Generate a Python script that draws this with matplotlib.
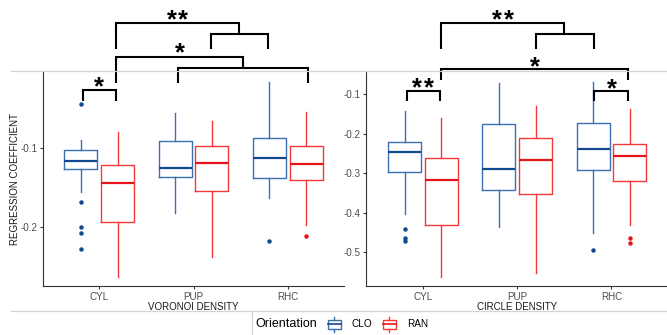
import numpy as np
import matplotlib
matplotlib.use('Agg')
import matplotlib.pyplot as plt
import matplotlib.transforms as mtransforms
from matplotlib.patches import Rectangle
from matplotlib.lines import Line2D
from matplotlib.textpath import TextPath
from matplotlib.font_manager import FontProperties

plt.rcParams['font.family'] = ['Liberation Sans', 'DejaVu Sans']

# categories and groups
categories = ['CYL', 'PUP', 'RHC']
groups = ['CLO', 'RAN']

# box stats per category: [whislo, q1, median, q3, whishi]
vor_clo_stats = [[-0.1551, -0.1267, -0.1157, -0.1025, -0.0895],
                 [-0.1826, -0.1369, -0.1246, -0.0904, -0.0548],
                 [-0.1635, -0.1381, -0.1119, -0.0873, -0.0154]]
vor_clo_fliers = [[-0.0437, -0.1686, -0.2004, -0.2076, -0.2280], [], [-0.2178]]
vor_ran_stats = [[-0.2632, -0.1932, -0.1437, -0.1208, -0.0789],
                 [-0.2377, -0.1538, -0.1183, -0.0971, -0.0649],
                 [-0.1974, -0.1403, -0.1196, -0.0975, -0.0539]]
vor_ran_fliers = [[], [], [-0.2110]]

cir_clo_stats = [[-0.4032, -0.2963, -0.2474, -0.2205, -0.1420],
                 [-0.4369, -0.3434, -0.2904, -0.1767, -0.0730],
                 [-0.4504, -0.2920, -0.2382, -0.1740, -0.0689]]
cir_clo_fliers = [[-0.4410, -0.4647, -0.4706], [], [-0.4942]]
cir_ran_stats = [[-0.5616, -0.4302, -0.3181, -0.2625, -0.1615],
                 [-0.5530, -0.3535, -0.2676, -0.2103, -0.1303],
                 [-0.4310, -0.3198, -0.2575, -0.2272, -0.1388]]
cir_ran_fliers = [[], [], [-0.4630, -0.4765]]

vor_ticks = [-0.2, -0.1]
vor_ticklabels = ['-0.2', '-0.1']
cir_ticks = [-0.5, -0.4, -0.3, -0.2, -0.1]
cir_ticklabels = ['-0.5', '-0.4', '-0.3', '-0.2', '-0.1']

W, H = 667, 335
fig = plt.figure(figsize=(W / 100, H / 100), dpi=100)
px = mtransforms.Affine2D().scale(1 / W, -1 / H).translate(0, 1) + fig.transFigure

edge = {'CLO': '#3d6fb3', 'RAN': '#f5383a'}
med = {'CLO': '#124a92', 'RAN': '#e8141b'}
dark = '#333333'


def rect(x0, x1, y0, y1):
    return [x0 / W, 1 - y1 / H, (x1 - x0) / W, (y1 - y0) / H]


def draw_panel(ax, clo_stats, clo_fl, ran_stats, ran_fl, xlabel, ticks, ticklabels, ylim):
    pos = np.arange(1, len(categories) + 1)
    for g, stats, fl, off in [('CLO', clo_stats, clo_fl, -0.195), ('RAN', ran_stats, ran_fl, 0.195)]:
        bs = [dict(whislo=s[0], q1=s[1], med=s[2], q3=s[3], whishi=s[4], fliers=f)
              for s, f in zip(stats, fl)]
        ax.bxp(bs, positions=pos + off, widths=0.35, showcaps=False, patch_artist=False,
               boxprops=dict(color=edge[g], lw=1.0),
               whiskerprops=dict(color=edge[g], lw=1.0),
               medianprops=dict(color=med[g], lw=1.6),
               flierprops=dict(marker='o', markersize=2.2, markerfacecolor=med[g],
                               markeredgecolor=med[g], linestyle='none'))
    ax.set_xlim(0.4, 3.6)
    ax.set_ylim(*ylim)
    ax.set_xticks(pos)
    ax.set_xticklabels(categories)
    ax.set_yticks(ticks)
    ax.set_yticklabels(ticklabels)
    ax.set_xlabel(xlabel, fontsize=7.0, color='#1a1a1a', labelpad=0.2)
    for s in ['top', 'right']:
        ax.spines[s].set_visible(False)
    for s in ['left', 'bottom']:
        ax.spines[s].set_color(dark)
        ax.spines[s].set_linewidth(0.8)
    ax.tick_params(axis='both', colors=dark, labelcolor='#4d4d4d', labelsize=7.1,
                   length=2.5, width=0.8, pad=1.5)


ax1 = fig.add_axes(rect(42.8, 344.3, 72, 286))
draw_panel(ax1, vor_clo_stats, vor_clo_fliers, vor_ran_stats, vor_ran_fliers,
           'VORONOI DENSITY', vor_ticks, vor_ticklabels, (-0.275, -0.003))
ax1.set_ylabel('REGRESSION COEFFICIENT', fontsize=7.0, color='#1a1a1a')
ax1.yaxis.set_label_coords(-0.074, 0.5)

ax2 = fig.add_axes(rect(366.4, 668.0, 72, 286))
draw_panel(ax2, cir_clo_stats, cir_clo_fliers, cir_ran_stats, cir_ran_fliers,
           'CIRCLE DENSITY', cir_ticks, cir_ticklabels, (-0.5852, -0.0444))

# asterisk glyph metrics so the ink (not the line box) is placed
star_prop = FontProperties(family='Liberation Sans', weight='bold')
ext = TextPath((0, 0), '*', size=10, prop=star_prop).get_extents()
star_fs = 10 * (9.5 * 0.72) / ext.height          # ~9.5 px tall glyph
star_mid = (ext.y0 + ext.y1) / 2 * star_fs / 10 / 0.72   # px above baseline


def bracket(ax, xs, ys):
    tr = mtransforms.blended_transform_factory(ax.transData, px)
    ax.plot(xs, ys, color='black', lw=1.5, transform=tr, clip_on=False,
            solid_joinstyle='miter', solid_capstyle='butt')


def stars(ax, x, yc, n):
    # yc = pixel centre of the star ink; stars spaced 11.7 px apart
    tr = mtransforms.blended_transform_factory(ax.transData, px)
    for i in range(n):
        dx = (i - (n - 1) / 2) * 11.7
        t = mtransforms.offset_copy(tr, fig=fig, x=dx * 0.72, y=0, units='points')
        ax.text(x, yc + star_mid, '*', transform=t, ha='center', va='baseline',
                fontsize=star_fs, fontproperties=star_prop, color='black', clip_on=False)


# left panel
bracket(ax1, [0.824, 0.824, 1.174, 1.174], [101, 90, 90, 101])
stars(ax1, 1.0, 81.5, 1)
bracket(ax1, [1.83, 1.83, 3.21, 3.21], [83, 68.3, 68.3, 83])
bracket(ax1, [1.177, 1.177, 2.52, 2.52], [83, 56.7, 56.7, 68.3])
stars(ax1, 1.85, 47.2, 1)
bracket(ax1, [2.18, 2.18, 2.79, 2.79], [49.3, 34.3, 34.3, 49.3])
bracket(ax1, [1.177, 1.177, 2.485, 2.485], [49.3, 22.7, 22.7, 34.3])
stars(ax1, 1.83, 14.5, 2)

# right panel
bracket(ax2, [0.827, 0.827, 1.18, 1.18], [101, 90.7, 90.7, 101])
stars(ax2, 1.0, 82, 2)
bracket(ax2, [2.82, 2.82, 3.18, 3.18], [101, 90.7, 90.7, 101])
stars(ax2, 3.0, 83, 1)
bracket(ax2, [1.19, 1.19, 3.18, 3.18], [80, 69, 69, 80])
stars(ax2, 2.185, 61.2, 1)
bracket(ax2, [2.195, 2.195, 2.81, 2.81], [49.3, 34.3, 34.3, 49.3])
bracket(ax2, [1.19, 1.19, 2.5, 2.5], [49.3, 22.7, 22.7, 34.3])
stars(ax2, 1.85, 14.5, 2)

# page rules
grey = '#d4d4d4'
fig.add_artist(Line2D([11, 667], [71, 71], color=grey, lw=0.9, transform=px))
fig.add_artist(Line2D([11, 667], [310.5, 310.5], color=grey, lw=0.9, transform=px))
fig.add_artist(Line2D([252.3, 252.3], [310.5, 335], color=grey, lw=0.9, transform=px))

# legend
fig.text(255 / W, 1 - 323.7 / H, 'Orientation', fontsize=9, color='black', va='center', ha='left')
for g, x0, tx in [('CLO', 327.5, 351), ('RAN', 382.5, 406.7)]:
    x1 = x0 + 13
    xm = (x0 + x1) / 2
    fig.add_artist(Rectangle((x0, 319.7), 13, 9, fill=False, edgecolor=edge[g], lw=1.0, transform=px))
    fig.add_artist(Line2D([x0, x1], [324.2, 324.2], color=med[g], lw=1.2, transform=px))
    fig.add_artist(Line2D([xm, xm], [316.8, 319.7], color=edge[g], lw=1.0, transform=px))
    fig.add_artist(Line2D([xm, xm], [328.7, 331.5], color=edge[g], lw=1.0, transform=px))
    fig.text(tx / W, 1 - 323.7 / H, g, fontsize=7.2, color='black', va='center', ha='left')

fig.savefig('out.png', dpi=100)
